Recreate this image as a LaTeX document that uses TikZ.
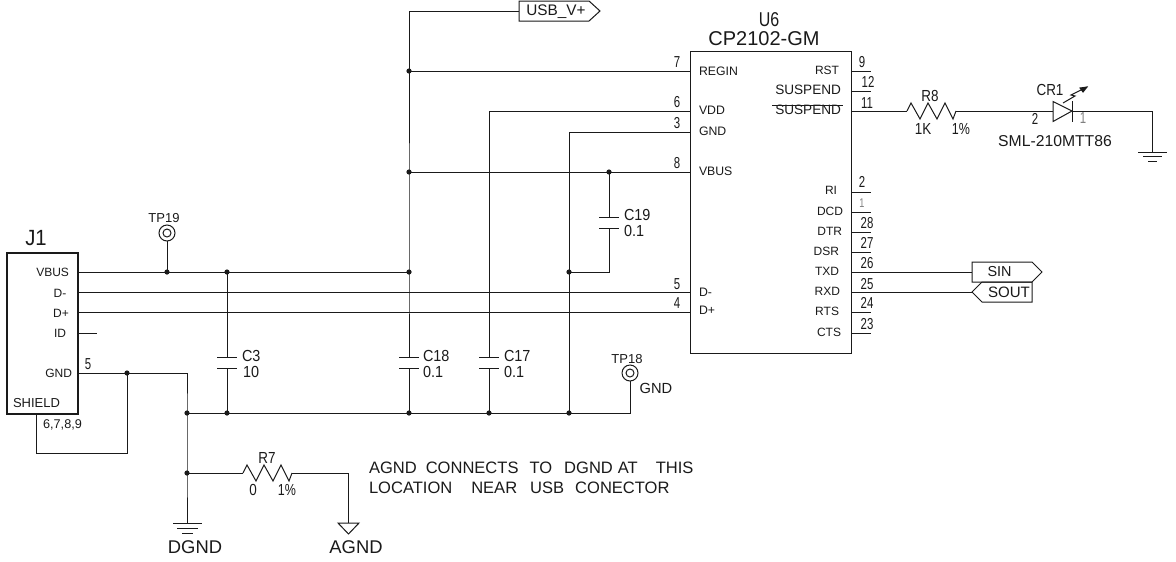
\documentclass[tikz,border=0pt]{standalone}
\usepackage{fontspec}
\setmainfont{Liberation Sans}
\definecolor{ink}{HTML}{1A1A1A}
\newcommand\szf[1]{\fontsize{#1}{#1}\selectfont}
\tikzset{
 txt/.style={inner sep=0pt,outer sep=0pt,text=ink,anchor=center,transform shape},
 lft/.style={txt,anchor=west},
 rgt/.style={txt,anchor=east},
 pin/.style={txt,font=\szf{9}},
 pinL/.style={lft,font=\szf{9.2}},
 pinR/.style={rgt,font=\szf{9}},
 num/.style={txt,font=\szf{11.9},xscale=.72},
 val/.style={txt,font=\szf{12},xscale=.84},
 pct/.style={txt,font=\szf{12},xscale=.78},
 valL/.style={lft,font=\szf{12},xscale=.9},
 big/.style={txt,font=\szf{13.8}},
 note/.style={lft,font=\szf{12.4}},
 wire/.style={draw=ink,line width=.75pt,line join=miter},
 jdot/.style={fill=ink},
}
\begin{document}
\begin{tikzpicture}[x=.75pt,y=-.75pt]
\useasboundingbox (0,0) rectangle (1176,561);
\fill[white] (0,0) rectangle (1176,561);
% ---- component bodies
\node (J1box) [draw=ink,line width=1.5pt,minimum width=53.25pt,minimum height=120.75pt,inner sep=0pt,anchor=north west] at (6,252) {};
\node (U6box) [draw=ink,line width=.9pt,minimum width=120.75pt,minimum height=226.5pt,inner sep=0pt,anchor=north west] at (690,51) {};
% ---- named points
\foreach \n/\x/\y in {
 jVB/77/272, jDm/77/292, jDp/77/312.5, jID/77/333, jIDe/97/333, jGN/77/373,
 jSH/36/413, shB/36/453, shC/127/453, gj/127/373, gc/187/373, gb/187/413, gr/187/473, dg/187/523,
 tp19/167/241, n19/167/272, c3t/227/272, c3a/227/357, c3b/227/368, c3g/227/413,
 vt/409/11, v7/409/71, v8/409/172, vb/409/272, c18a/409/357, c18b/409/368, c18g/409/413,
 fU/519/11, p7/690/71, p6/690/111, p3/690/132, p8/690/172, p5/690/292, p4/690/312.5,
 c6/489/111, c17a/489/357, c17b/489/368, c17g/489/413,
 g3/569/132, g19/569/272, gg/569/413,
 c19t/609/172, c19a/609/217, c19b/609/228, c19c/609/272,
 tp18b/630/413, tp18/630/381,
 r7a/243/473, r7b/292/473, ag/348/473, agT/348/523,
 p11/851/111, r8a/907/111, r8b/956/111, dA/1053/111, dK/1072/111, gE/1152/111, gE2/1152/152,
 pTX/851/272, pRX/851/292, fS/972/272, fO/972/292,
 ovl/772/105, ovr/843/105}
 {\coordinate (\n) at (\x,\y);}
% ---- wires
\draw[wire] (jVB) -- (vb);
\draw[wire] (jDm) -- (p5);
\draw[wire] (jDp) -- (p4);
\draw[wire] (jID) -- (jIDe);
\draw[wire] (jGN) -- (gc) -- (gb) -- (gr) -- (dg);
\draw[wire] (gj) -- (shC) -- (shB) -- (jSH);
\draw[wire] (gb) -- (tp18b) -- (tp18);
\draw[wire] (tp19) -- (n19);
\draw[wire] (c3t) -- (c3a);
\draw[wire] (c3b) -- (c3g);
\draw[wire] (fU) -- (vt) -- (vb) -- (c18a);
\draw[wire] (c18b) -- (c18g);
\draw[wire] (v7) -- (p7);
\draw[wire] (v8) -- (p8);
\draw[wire] (p6) -- (c6) -- (c17a);
\draw[wire] (c17b) -- (c17g);
\draw[wire] (p3) -- (g3) -- (gg);
\draw[wire] (c19t) -- (c19a);
\draw[wire] (c19b) -- (c19c) -- (g19);
\draw[wire] (gr) -- (r7a);
\draw[wire] (r7b) -- (ag) -- (agT);
\draw[wire] (p11) -- (r8a);
\draw[wire] (r8b) -- (dA);
\draw[wire] (dK) -- (gE) -- (gE2);
\draw[wire] (pTX) -- (fS);
\draw[wire] (pRX) -- (fO);
\draw[wire] (ovl) -- (ovr);
% ---- capacitor plates
\foreach \c/\x in {c3/227,c18/409,c17/489}{
 \draw[wire] (\x-10,357) -- (\x+10,357);
 \draw[wire] (\x-10,368) -- (\x+10,368);
}
\draw[wire] (599,217) -- (619,217);
\draw[wire] (599,228) -- (619,228);
% ---- resistors
\draw[wire] (r7a) -- (247,465) -- (256,481) -- (264,465) -- (273,481) -- (281,465) -- (289,481) -- (r7b);
\draw[wire] (r8a) -- (911,103) -- (920,119) -- (928,103) -- (937,119) -- (945,103) -- (953,119) -- (r8b);
% ---- grounds
\draw[wire] (173,523) -- (202,523);
\draw[wire] (177,528) -- (198,528);
\draw[wire] (182,533) -- (193,533);
\draw[wire] (1138,152) -- (1167,152);
\draw[wire] (1143,156.5) -- (1162,156.5);
\draw[wire] (1148,161) -- (1157,161);
\draw[wire] (338,523) -- (359,523) -- (348.5,534) -- cycle;
% ---- LED
\draw[wire] (dA) -- (1053,101.5) -- (1072,111) -- (1053,121.5) -- cycle;
\draw[wire] (1072,101) -- (1072,122);
\draw[wire] (1063,103) -- (1075,96) -- (1071,95) -- (1087,87);
\draw[wire,fill=ink] (1087,87) -- (1080,88) -- (1083,92) -- cycle;
% ---- test points
\draw[wire] (167,233) circle[radius=6pt];
\draw[wire] (167,233) circle[radius=3pt];
\draw[wire] (630,373) circle[radius=6pt];
\draw[wire] (630,373) circle[radius=3pt];
% ---- flags
\draw[wire] (fU) -- (519,1) -- (589,1) -- (600,11) -- (589,21) -- (519,21) -- cycle;
\draw[wire] (972,262) -- (1032,262) -- (1042,272) -- (1032,282) -- (972,282) -- cycle;
\draw[wire] (972,292) -- (982,282) -- (1032,282) -- (1032,302) -- (982,302) -- cycle;
% ---- right pin stubs
\foreach \n/\y in {9/71,12/91,2/192,1/212,28/232,27/252,24/312,23/333}
 {\coordinate (rs\n) at (851,\y); \coordinate (re\n) at (871,\y); \draw[wire] (rs\n) -- (re\n);}
% ---- junctions
\foreach \j in {n19,c3t,vb,v8,v7,g19,c19t,gj,gb,gr,c3g,c18g,c17g,gg}
 \fill[jdot] (\j) circle[radius=1.95pt];
% ---- texts: J1
\node (tJ1) [txt,font=\szf{16.5},xscale=.92] at (36,238) {J1};
\node (tVB) [pinR] at (69,272) {VBUS};
\node (tDm) [pin] at (60,293) {D-};
\node (tDp) [pin] at (61,313) {D+};
\node (tID) [pin] at (60,333) {ID};
\node (tGN) [pinR] at (72,373) {GND};
\node (tSH) [txt,font=\szf{9.75}] at (36.5,403) {SHIELD};
\node (t6789) [txt,font=\szf{9.5}] at (62.5,425) {6,7,8,9};
\node (t5a) [num] at (88,364) {5};
\node (tTP19) [txt,font=\szf{9.75}] at (164,218) {TP19};
\node (tC3) [valL] at (242,356) {C3};
\node (t10) [valL] at (243,372) {10};
\node (tR7) [val] at (267,458) {R7};
\node (t0) [val] at (253,490) {0};
\node (t1pa) [pct] at (287,490) {1\%};
\node (tDG) [big] at (195,547) {DGND};
\node (tAG) [big] at (356,547) {AGND};
\node (tn1) [note] at (369,468) {AGND\hspace{6.75pt}CONNECTS\hspace{8.25pt}TO\hspace{9pt}DGND\hspace{3.75pt}AT\hspace{13.5pt}THIS};
\node (tn2) [note] at (369,488) {LOCATION\hspace{14.25pt}NEAR\hspace{9.75pt}USB\hspace{8.25pt}CONECTOR};
% ---- texts: capacitors, flags
\node (tUSB) [txt,font=\szf{11.5}] at (556,12) {USB\_V+};
\node (tC19) [valL] at (624,215) {C19};
\node (t019) [valL] at (624,231) {0.1};
\node (tC18) [valL] at (423,356) {C18};
\node (t018) [valL] at (423,372) {0.1};
\node (tC17) [valL] at (504,356) {C17};
\node (t017) [valL] at (504,372) {0.1};
\node (tTP18) [txt,font=\szf{9.75}] at (627,359) {TP18};
\node (tGG) [txt,font=\szf{11}] at (656,388) {GND};
% ---- texts: U6
\node (tU6) [txt,font=\szf{15},xscale=.8] at (769,20) {U6};
\node (tCP) [txt,font=\szf{15}] at (764,39) {CP2102-GM};
\node (n7) [num] at (677,62) {7};
\node (n6) [num] at (677,102) {6};
\node (n3) [num] at (677,123) {3};
\node (n8) [num] at (677,163) {8};
\node (n5) [num] at (677,284) {5};
\node (n4) [num] at (677,303) {4};
\node (lREG) [pinL] at (699,71) {REGIN};
\node (lVDD) [pinL] at (699,110) {VDD};
\node (lGND) [pinL] at (699,131) {GND};
\node (lVB) [pinL] at (699,171) {VBUS};
\node (lDm) [pinL] at (699,292) {D-};
\node (lDp) [pinL] at (699,310) {D+};
\node (lRST) [pinR] at (839,70) {RST};
\node (lSUa) [pinR,font=\szf{10.2}] at (841,90) {SUSPEND};
\node (lSUb) [pinR,font=\szf{10.2}] at (841,110) {SUSPEND};
\node (lRI) [pinR] at (837,190) {RI};
\node (lDCD) [pinR] at (843,211) {DCD};
\node (lDTR) [pinR] at (842,231) {DTR};
\node (lDSR) [pinR] at (839,251) {DSR};
\node (lTXD) [pinR] at (839,271) {TXD};
\node (lRXD) [pinR] at (840,291) {RXD};
\node (lRTS) [pinR] at (839,311) {RTS};
\node (lCTS) [pinR] at (841,332) {CTS};
\node (n9) [num] at (862,62) {9};
\node (n12) [num] at (868,82) {12};
\node (n11) [num] at (867,103) {11};
\node (n2) [num] at (862,182) {2};
\node (n1) [num,font=\szf{9.5},text=gray] at (862,203) {1};
\node (n28) [num] at (867,223) {28};
\node (n27) [num] at (867,243) {27};
\node (n26) [num] at (867,263) {26};
\node (n25) [num] at (867,284) {25};
\node (n24) [num] at (867,303) {24};
\node (n23) [num] at (867,324) {23};
% ---- texts: right side
\node (tR8) [val] at (930,96) {R8};
\node (t1K) [val] at (923,129) {1K};
\node (t1pb) [pct] at (961,129) {1\%};
\node (tCR1) [val] at (1050,90) {CR1};
\node (tL2) [num] at (1035,119) {2};
\node (tL1) [num,text=gray] at (1083,118) {1};
\node (tSML) [txt,font=\szf{11.8}] at (1055,141) {SML-210MTT86};
\node (tSIN) [txt,font=\szf{10.8}] at (999.5,272) {SIN};
\node (tSOUT) [txt,font=\szf{11.3}] at (1009,292) {SOUT};
\end{tikzpicture}
\end{document}
